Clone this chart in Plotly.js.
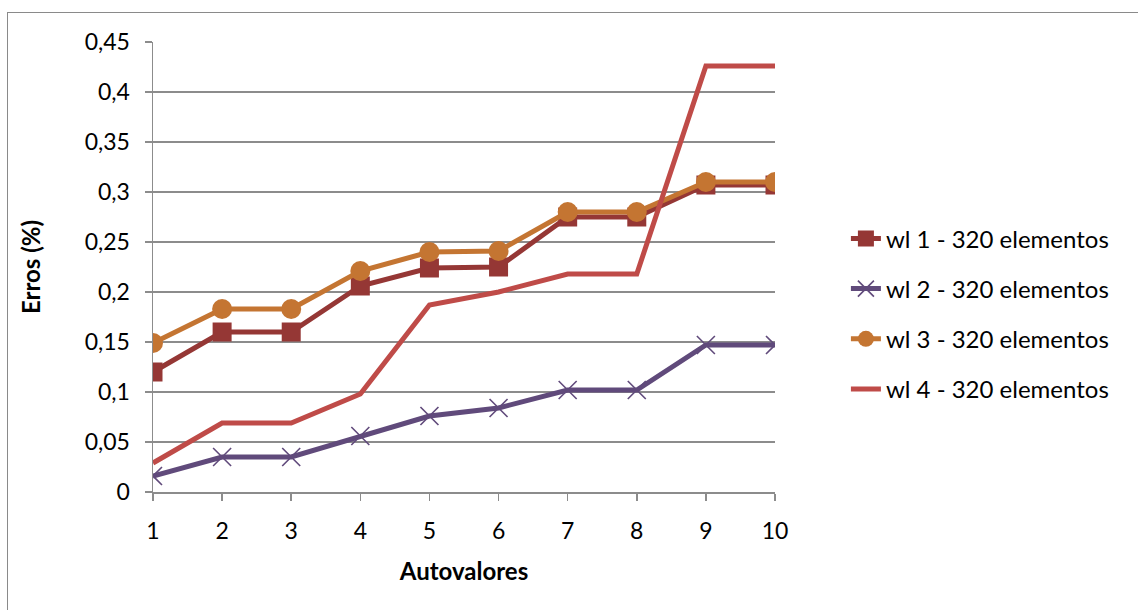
<!DOCTYPE html>
<html>
<head>
<meta charset="utf-8">
<script src="https://cdn.plot.ly/plotly-3.0.1.min.js"></script>
<style>
  html, body { margin: 0; padding: 0; background: #fff; overflow: hidden; }
  #frame { position: absolute; left: 7px; top: 12px; width: 1200px; height: 700px;
           border-left: 1.5px solid #8a8a8a; border-top: 1.5px solid #8a8a8a; pointer-events: none; }
  #chart { position: absolute; left: 0; top: 0; width: 1138px; height: 610px; }
</style>
</head>
<body>
<div id="chart"></div>
<div id="frame"></div>
<script>
// Eigenvalue count on the x axis
const autovalores = [1, 2, 3, 4, 5, 6, 7, 8, 9, 10];

// Error (%) for each wavelet, 320 elements
const wl1 = [0.120, 0.160, 0.160, 0.206, 0.224, 0.225, 0.275, 0.275, 0.307, 0.307];
const wl2 = [0.016, 0.035, 0.035, 0.056, 0.076, 0.084, 0.102, 0.102, 0.147, 0.147];
const wl3 = [0.149, 0.183, 0.183, 0.221, 0.240, 0.241, 0.280, 0.280, 0.310, 0.310];
const wl4 = [0.029, 0.069, 0.069, 0.098, 0.187, 0.200, 0.218, 0.218, 0.426, 0.426];

const seriesNames = ["wl 1 - 320 elementos", "wl 2 - 320 elementos",
                     "wl 3 - 320 elementos", "wl 4 - 320 elementos"];

const yTickVals = [0, 0.05, 0.1, 0.15, 0.2, 0.25, 0.3, 0.35, 0.4, 0.45];
const yTickText = ["0", "0,05", "0,1", "0,15", "0,2", "0,25", "0,3", "0,35", "0,4", "0,45"];

const FONT = "Lato, 'Open Sans', sans-serif";
const GRID = "#8c8c8c";
const TICK_SIZE = 23;

const traces = [
  { x: autovalores, y: wl1, name: seriesNames[0], legendgroup: "a",
    mode: "lines+markers",
    line: { color: "#953735", width: 5 },
    marker: { symbol: "square", size: 19, color: "#953735" } },
  { x: autovalores, y: wl2, name: seriesNames[1], legendgroup: "b",
    mode: "lines+markers",
    line: { color: "#604A7B", width: 5 },
    marker: { symbol: "x-thin-open", size: 18, color: "#604A7B", line: { color: "#604A7B", width: 1.6 } } },
  { x: autovalores, y: wl3, name: seriesNames[2], legendgroup: "c",
    mode: "lines+markers",
    line: { color: "#C47532", width: 5 },
    marker: { symbol: "circle", size: 20, color: "#C47532" } },
  { x: autovalores, y: wl4, name: seriesNames[3], legendgroup: "d",
    mode: "lines",
    line: { color: "#BF4B48", width: 5 } }
];

const layout = {
  width: 1138, height: 610,
  margin: { l: 153, r: 363, t: 42, b: 118, pad: 0 },
  paper_bgcolor: "#fff", plot_bgcolor: "#fff",
  font: { family: FONT, size: TICK_SIZE, color: "#000" },
  showlegend: true,
  legend: {
    x: 1.114, y: 0.396, xanchor: "left", yanchor: "middle",
    font: { family: FONT, size: 24, color: "#000" },
    traceorder: "grouped", tracegroupgap: 16,
    bgcolor: "rgba(0,0,0,0)"
  },
  xaxis: {
    range: [1, 10], tickvals: autovalores, ticktext: autovalores.map(String),
    showgrid: false, zeroline: false,
    showline: true, linecolor: GRID, linewidth: 1.5,
    ticks: "outside", ticklen: 7, tickcolor: GRID, tickwidth: 1.5,
    ticklabelstandoff: 11,
    tickfont: { family: FONT, size: TICK_SIZE },
    title: { text: "<b>Autovalores</b>", font: { family: FONT, size: 24 }, standoff: 20 }
  },
  yaxis: {
    range: [0, 0.45], tickvals: yTickVals, ticktext: yTickText,
    showgrid: true, gridcolor: GRID, gridwidth: 1.5, zeroline: false,
    showline: true, linecolor: GRID, linewidth: 1.5,
    ticks: "outside", ticklen: 7, tickcolor: GRID, tickwidth: 1.5,
    ticklabelstandoff: 10,
    tickfont: { family: FONT, size: TICK_SIZE },
    title: { text: "<b>Erros (%)</b>", font: { family: FONT, size: 24 }, standoff: 37 }
  }
};

Plotly.newPlot("chart", traces, layout, { staticPlot: true, displayModeBar: false });
</script>
</body>
</html>
